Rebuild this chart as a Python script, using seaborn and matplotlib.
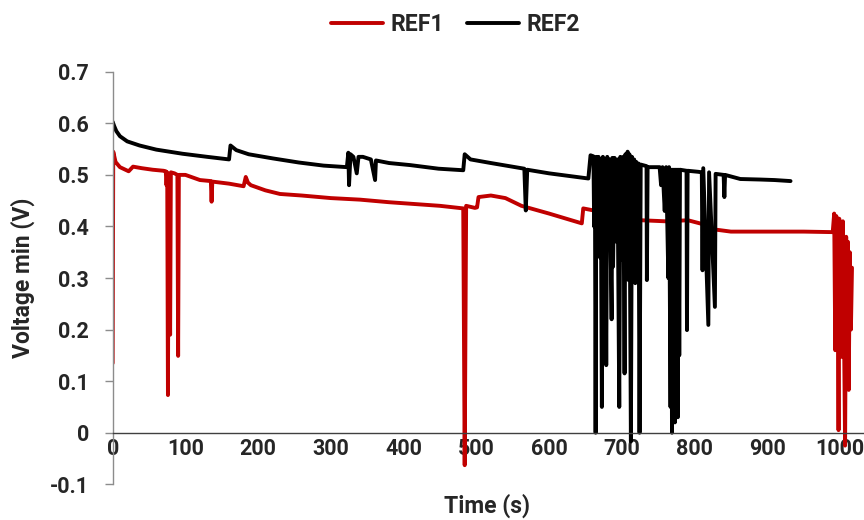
import numpy as np
import pandas as pd
import matplotlib
matplotlib.use('Agg')
import matplotlib.pyplot as plt
import seaborn as sns

# REF1 (red) trace
ref1_time = [0, 0.8, 4, 10, 22, 28, 40, 55, 70, 73,
             74, 75, 76, 77, 79, 80, 85, 89, 90, 91,
             100, 120, 135, 136, 137, 160, 180, 183, 186, 190,
             210, 230, 260, 300, 340, 380, 420, 450, 482, 484,
             486, 498, 501, 503, 520, 540, 562, 600, 645, 647,
             665, 700, 727, 760, 791, 810, 823, 850, 873, 900,
             950, 990, 992, 993.5, 995, 997, 998, 999, 1001, 1002.7,
             1004, 1005.5, 1007, 1008.5, 1010, 1011, 1012, 1013.5, 1015, 1016.5]
ref1_volt = [0.135, 0.545, 0.525, 0.515, 0.507, 0.516, 0.513, 0.510, 0.508, 0.507,
             0.480, 0.505, 0.073, 0.500, 0.190, 0.505, 0.503, 0.500, 0.149, 0.500,
             0.500, 0.490, 0.488, 0.448, 0.487, 0.483, 0.478, 0.496, 0.485, 0.480,
             0.470, 0.463, 0.460, 0.455, 0.452, 0.447, 0.443, 0.440, 0.435, -0.063,
             0.440, 0.436, 0.437, 0.457, 0.460, 0.455, 0.440, 0.425, 0.406, 0.435,
             0.430, 0.418, 0.412, 0.410, 0.412, 0.405, 0.395, 0.390, 0.390, 0.390,
             0.390, 0.389, 0.425, 0.160, 0.420, 0.300, 0.005, 0.415, 0.250, 0.147,
             0.410, 0.200, -0.025, 0.380, 0.100, 0.370, 0.083, 0.350, 0.200, 0.320]

# REF2 (black) trace
ref2_time = [0, 2, 5, 10, 20, 37, 60, 96, 130, 160,
             162, 170, 187, 220, 256, 290, 322, 324, 325, 327,
             331, 335.6, 338, 344, 355, 360.8, 362, 380, 409, 448,
             482, 484, 492, 520, 566, 568, 570, 600, 654, 657,
             661, 662, 663, 664, 665, 667, 668, 670, 671, 672.6,
             674, 676, 677, 678.6, 680, 682, 683, 686, 687, 688,
             690, 693, 694, 696.5, 698, 701, 702, 703.8, 705, 707,
             708, 709.3, 710.5, 712.5, 714, 716, 717, 718.5, 720, 722,
             723, 724.4, 726, 734, 734.5, 735.5, 750, 752, 754, 756,
             759, 761, 764, 765, 767, 768, 769, 770, 771, 772,
             773, 774, 775, 776, 777, 778, 779, 780, 789, 789.6,
             790.5, 805, 810, 811, 812, 819, 820, 828, 829, 840,
             841, 842, 863, 890, 910, 932]
ref2_volt = [0.603, 0.595, 0.585, 0.575, 0.565, 0.557, 0.549, 0.541, 0.535, 0.530,
             0.557, 0.548, 0.540, 0.532, 0.524, 0.518, 0.515, 0.543, 0.480, 0.540,
             0.535, 0.503, 0.535, 0.535, 0.530, 0.490, 0.528, 0.523, 0.519, 0.512,
             0.509, 0.540, 0.530, 0.523, 0.512, 0.431, 0.510, 0.503, 0.493, 0.538,
             0.536, 0.400, 0.530, 0.000, 0.535, 0.380, 0.535, 0.340, 0.530, 0.050,
             0.535, 0.360, 0.530, 0.131, 0.535, 0.400, 0.530, 0.220, 0.533, 0.322,
             0.533, 0.370, 0.530, 0.050, 0.535, 0.335, 0.535, 0.115, 0.540, 0.400,
             0.545, 0.296, 0.540, -0.017, 0.535, 0.340, 0.530, 0.290, 0.525, 0.420,
             0.522, 0.000, 0.520, 0.517, 0.296, 0.515, 0.515, 0.515, 0.480, 0.515,
             0.430, 0.515, 0.300, 0.515, 0.050, 0.510, 0.000, 0.510, 0.100, 0.510,
             0.020, 0.510, 0.120, 0.510, 0.030, 0.510, 0.150, 0.510, 0.508, 0.199,
             0.508, 0.506, 0.505, 0.315, 0.513, 0.209, 0.505, 0.244, 0.502, 0.500,
             0.457, 0.500, 0.492, 0.491, 0.490, 0.488]

x_ticks = list(range(0, 1001, 100))
y_ticks = [-0.1, 0, 0.1, 0.2, 0.3, 0.4, 0.5, 0.6, 0.7]
y_tick_labels = ['-0.1', '0', '0.1', '0.2', '0.3', '0.4', '0.5', '0.6', '0.7']

ref1 = pd.DataFrame({'Time': ref1_time, 'Volt': ref1_volt})
ref2 = pd.DataFrame({'Time': ref2_time, 'Volt': ref2_volt})

sns.set_style('white')
plt.rcParams['font.family'] = ['Roboto', 'DejaVu Sans']
plt.rcParams['font.weight'] = 'bold'
FS = 16.5        # axis titles, legend
TICK_FS = 15.5   # tick labels

fig = plt.figure(figsize=(8.64, 5.2), dpi=100)
ax = fig.add_axes([0.1304, 0.0687, 0.8696, 0.7933])

sns.lineplot(data=ref1, x='Time', y='Volt', ax=ax, color='#C00000', lw=2.8,
             sort=False, estimator=None, label='REF1')
sns.lineplot(data=ref2, x='Time', y='Volt', ax=ax, color='#000000', lw=2.8,
             sort=False, estimator=None, label='REF2')

ax.set_xlim(0, 1033)
ax.set_ylim(-0.1, 0.7)

# axis layout: x axis crosses at y=0
for side in ['top', 'right']:
    ax.spines[side].set_visible(False)
ax.spines['bottom'].set_position(('data', 0))
ax.spines['bottom'].set_color('#404040')
ax.spines['bottom'].set_linewidth(1.0)
ax.spines['left'].set_color('#8C8C8C')
ax.spines['left'].set_linewidth(1.0)

ax.set_xticks(x_ticks)
ax.set_xticklabels([str(t) for t in x_ticks])
ax.set_yticks(y_ticks)
ax.set_yticklabels(y_tick_labels)
ax.tick_params(axis='x', direction='in', length=6, width=1, color='#404040',
               pad=4, labelsize=TICK_FS)
ax.tick_params(axis='y', direction='out', length=6, width=1, color='#8C8C8C',
               pad=11, labelsize=TICK_FS, left=True)
for lbl in ax.get_xticklabels() + ax.get_yticklabels():
    lbl.set_fontweight('bold')

ax.set_xlabel('Time (s)', fontsize=FS, fontweight='bold')
ax.set_ylabel('Voltage min (V)', fontsize=FS, fontweight='bold')
ax.xaxis.set_label_coords(0.498, -0.022)
ax.yaxis.set_label_coords(-0.103, 0.5)

handles, labels = ax.get_legend_handles_labels()
ax.get_legend().remove()
fig.legend(handles, labels, loc='upper center', bbox_to_anchor=(0.527, 1.015),
           ncol=2, frameon=False, handlelength=2.3, columnspacing=1.0,
           handletextpad=0.3, prop={'weight': 'bold', 'size': FS})

fig.savefig('out.png', dpi=100)
